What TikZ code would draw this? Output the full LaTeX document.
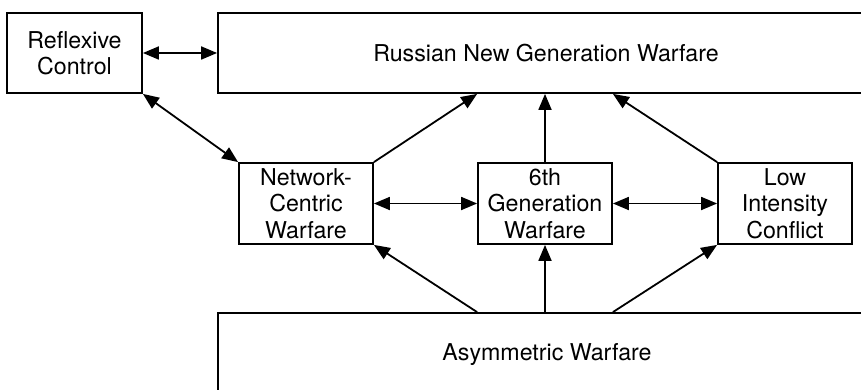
\documentclass[tikz,border=0pt]{standalone}
\usepackage{fontspec}
\setmainfont{TeX Gyre Heros}
\usetikzlibrary{arrows.meta,calc}
\begin{document}
\begin{tikzpicture}[x=1pt,y=-1pt,
  box/.style={draw,line width=1.8pt,rectangle,inner sep=0pt,align=center,font=\fontsize{23.2}{26.5}\selectfont},
  tip/.tip={Triangle[length=16pt,width=13pt]},
  conn/.style={line width=1.8pt,-tip},
  biconn/.style={line width=1.8pt,tip-tip}]
\useasboundingbox (0,0) rectangle (861,390);
\clip (0,0) rectangle (861,390);
\node[box,minimum width=135pt,minimum height=80pt] (rc) at (74.5,53) {Reflexive\\Control};
\node[box,minimum width=656pt,minimum height=80pt] (rngw) at (546,53) {Russian New Generation Warfare};
\node[box,minimum width=134pt,minimum height=81pt] (ncw) at (306,203.5) {Network-\\Centric\\Warfare};
\node[box,minimum width=134pt,minimum height=81pt] (sixth) at (545,203.5) {6th\\Generation\\Warfare};
\node[box,minimum width=134pt,minimum height=81pt] (lic) at (785,203.5) {Low\\Intensity\\Conflict};
\node[box,minimum width=658pt,minimum height=84pt] (asym) at (547,355) {Asymmetric Warfare};
% links
\draw[biconn] (rc.east) -- (rngw.west);
\draw[biconn] (rc.south east) -- (ncw.north west);
\draw[conn] (ncw.north east) -- (rngw.south -| sixth.west);
\draw[conn] (sixth.north) -- (rngw.south -| sixth.north);
\draw[conn] (lic.north west) -- (rngw.south -| sixth.east);
\draw[biconn] (ncw.east) -- (sixth.west);
\draw[biconn] (sixth.east) -- (lic.west);
\draw[conn] (asym.north -| sixth.west) -- (ncw.south east);
\draw[conn] (asym.north -| sixth.south) -- (sixth.south);
\draw[conn] (asym.north -| sixth.east) -- (lic.south west);
\end{tikzpicture}
\end{document}
